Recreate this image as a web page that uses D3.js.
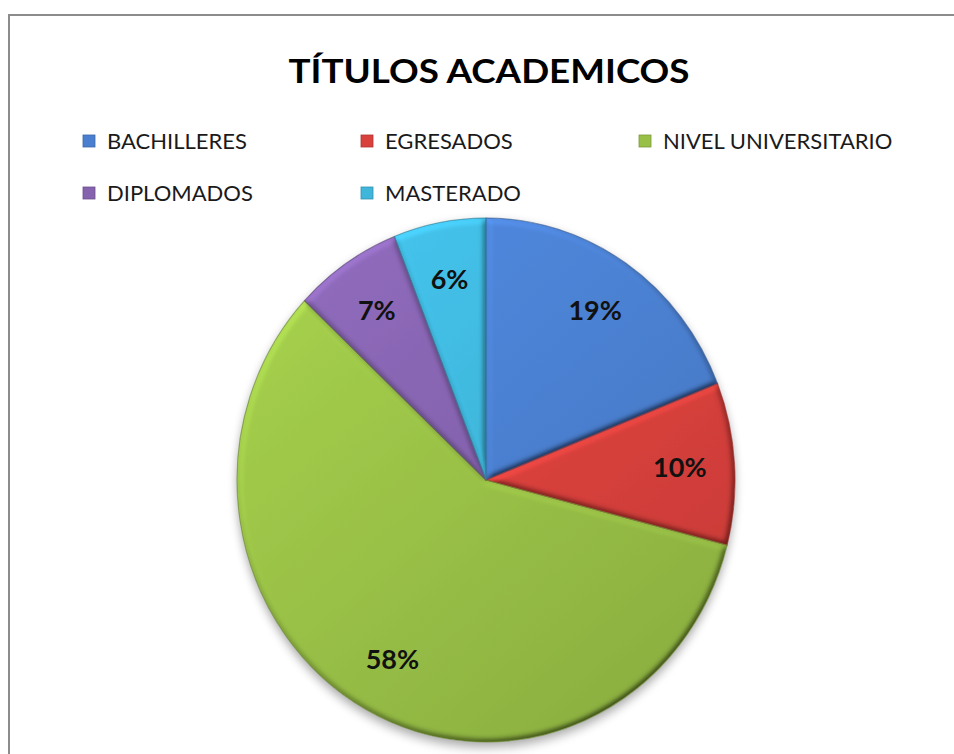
<!DOCTYPE html>
<html>
<head>
<meta charset="utf-8">
<script src="https://cdn.jsdelivr.net/npm/d3@7"></script>
<style>
  body { margin: 0; background: #fff; }
  svg { display: block; }
</style>
</head>
<body>
<div id="chart"></div>
<script>
var categories = ["BACHILLERES", "EGRESADOS", "NIVEL UNIVERSITARIO", "DIPLOMADOS", "MASTERADO"],
    values = [19, 10, 58, 7, 6],
    pctLabels = ["19%", "10%", "58%", "7%", "6%"];

var width = 954,
    height = 754,
    cx = 486, cy = 480,
    rx = 249, ry = 262; // chart is a bit stretched vertically

var color = d3.scaleOrdinal()
    .domain(categories)
    .range(["#4a7fcf", "#d9403c", "#98bf46", "#8462ad", "#3fb5da"]);

var svg = d3.select("#chart").append("svg")
    .attr("width", width)
    .attr("height", height);

var defs = svg.append("defs");

// bevel-ish lighting on each slice
var bevel = defs.append("filter")
    .attr("id", "bevel")
    .attr("x", "-10%").attr("y", "-10%")
    .attr("width", "120%").attr("height", "120%");
bevel.append("feGaussianBlur")
    .attr("in", "SourceAlpha")
    .attr("stdDeviation", 3)
    .attr("result", "blur");
bevel.append("feDiffuseLighting")
    .attr("in", "blur")
    .attr("surfaceScale", 4)
    .attr("diffuseConstant", 1)
    .attr("lighting-color", "#fff")
    .attr("result", "light")
  .append("feDistantLight")
    .attr("azimuth", 235)
    .attr("elevation", 55);
bevel.append("feComposite")
    .attr("in", "SourceGraphic")
    .attr("in2", "light")
    .attr("operator", "arithmetic")
    .attr("k1", 1.22).attr("k2", 0).attr("k3", 0).attr("k4", 0)
    .attr("result", "lit");
bevel.append("feComposite")
    .attr("in", "lit")
    .attr("in2", "SourceAlpha")
    .attr("operator", "in");

var shadow = defs.append("filter")
    .attr("id", "shadow")
    .attr("x", "-20%").attr("y", "-20%")
    .attr("width", "140%").attr("height", "140%");
shadow.append("feGaussianBlur")
    .attr("in", "SourceAlpha")
    .attr("stdDeviation", 5);
shadow.append("feOffset").attr("dy", 5).attr("result", "off");
shadow.append("feComponentTransfer")
  .append("feFuncA").attr("type", "linear").attr("slope", 0.35);

categories.forEach(function(c, i) {
    var base = d3.color(color(c));
    var g = defs.append("linearGradient")
        .attr("id", "grad" + i)
        .attr("gradientUnits", "userSpaceOnUse")
        .attr("x1", -rx).attr("y1", -rx)
        .attr("x2", rx * 0.6).attr("y2", rx);
    g.append("stop").attr("offset", "0%").attr("stop-color", base.brighter(0.3));
    g.append("stop").attr("offset", "100%").attr("stop-color", base.darker(0.25));
});

// frame
svg.append("rect")
    .attr("x", 9).attr("y", 15)
    .attr("width", width + 20).attr("height", height + 20)
    .attr("fill", "#fff")
    .attr("stroke", "#8c8c8c")
    .attr("stroke-width", 2);

// title
svg.append("text")
    .attr("x", 489).attr("y", 83)
    .attr("text-anchor", "middle")
    .style("font-family", "Lato, 'Open Sans', sans-serif")
    .style("font-weight", "bold")
    .style("font-size", "33px")
    .attr("textLength", 401)
    .attr("lengthAdjust", "spacingAndGlyphs")
    .attr("fill", "#000")
    .text("TÍTULOS ACADEMICOS");

// legend
var legend = svg.append("g").selectAll("g")
    .data(categories)
    .enter().append("g")
    .attr("transform", function(d, i) {
        return "translate(" + (83 + (i % 3) * 278) + "," + (141 + Math.floor(i / 3) * 52) + ")";
    });

legend.append("rect")
    .attr("x", 0).attr("y", -6)
    .attr("width", 12).attr("height", 12)
    .attr("fill", function(d, i) { return "url(#grad" + i + ")"; })
    .attr("stroke", function(d) { return d3.color(color(d)).darker(0.6); })
    .attr("stroke-width", 0.8);

legend.append("text")
    .attr("x", 24).attr("y", 8)
    .style("font-family", "Lato, 'Open Sans', sans-serif")
    .style("font-size", "22px")
    .attr("fill", "#1a1a1a")
    .text(function(d) { return d; });

// pie
var pie = d3.pie().sort(null).value(function(d) { return d; });
var arcs = pie(values);

var arc = d3.arc().innerRadius(0).outerRadius(rx);
var labelArc = d3.arc().innerRadius(rx * 0.78).outerRadius(rx * 0.78);

var pieG = svg.append("g")
    .attr("transform", "translate(" + cx + "," + cy + ") scale(1," + (ry / rx) + ")");

pieG.append("circle")
    .attr("r", rx)
    .attr("fill", "#000")
    .attr("filter", "url(#shadow)");

pieG.selectAll("path.slice")
    .data(arcs)
    .enter().append("path")
    .attr("class", "slice")
    .attr("d", arc)
    .attr("fill", function(d, i) { return "url(#grad" + i + ")"; })
    .attr("filter", "url(#bevel)");

pieG.selectAll("path.edge")
    .data(arcs)
    .enter().append("path")
    .attr("class", "edge")
    .attr("d", arc)
    .attr("fill", "none")
    .attr("stroke", function(d, i) { return d3.color(color(categories[i])).darker(0.9); })
    .attr("stroke-opacity", 0.7)
    .attr("stroke-width", 1);

// percentage labels
svg.append("g").selectAll("text")
    .data(arcs)
    .enter().append("text")
    .attr("x", function(d) { return cx + labelArc.centroid(d)[0]; })
    .attr("y", function(d) { return cy + labelArc.centroid(d)[1] * ry / rx; })
    .attr("dy", "0.35em")
    .attr("text-anchor", "middle")
    .style("font-family", "Lato, 'Open Sans', sans-serif")
    .style("font-weight", "bold")
    .style("font-size", "27px")
    .attr("fill", "#111")
    .text(function(d, i) { return pctLabels[i]; });
</script>
</body>
</html>
